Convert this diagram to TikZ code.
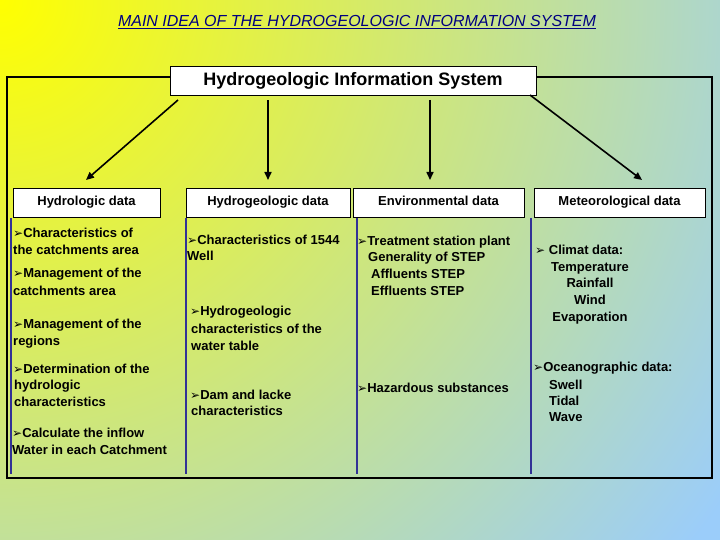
\documentclass[tikz,border=0pt]{standalone}
\usepackage{fontspec}
\setmainfont{Liberation Sans}
\newfontfamily\dv{DejaVu Sans}
\usetikzlibrary{arrows.meta}
\newcommand{\bl}{{\dv\fontsize{12}{12}\selectfont ➢}}
\definecolor{sky}{RGB}{155,205,250}
\definecolor{sep}{RGB}{50,50,150}
\begin{document}
\begin{tikzpicture}[x=1pt,y=-1pt,
  hdr/.style={draw=black,fill=white,minimum height=29pt,inner sep=0pt,text height=9.5pt,text depth=2.5pt,font=\fontsize{13}{15}\selectfont},
  txt/.style={anchor=west,inner sep=0pt,font=\fontsize{13}{15}\selectfont\bfseries},
  arr/.style={-{Triangle[length=8pt,width=7pt]},line width=1.6pt},
  frame/.style={line width=2.6pt},
  sepl/.style={sep,line width=2.4pt}]
\useasboundingbox (0,0) rectangle (720,540);
\fill[sky] (0,0) rectangle (720,540);
\begin{scope}
\clip (0,0) rectangle (720,540);
\shade[inner color=yellow,outer color=sky] (0,0) circle (880);
\end{scope}
\node[inner sep=0pt,text=blue!50!black,font=\fontsize{16}{18}\selectfont\itshape] (title) at (357,22) {\underline{MAIN IDEA OF THE HYDROGEOLOGIC INFORMATION SYSTEM}};
\draw[sepl] (11,218)--(11,474) (186,218)--(186,474) (357,218)--(357,474) (531,218)--(531,474);
\node[hdr,minimum width=366pt,text height=13pt,text depth=3.5pt,font=\fontsize{18}{20}\selectfont\bfseries] (his) at (353,80.5) {Hydrogeologic Information System};
\coordinate (tl) at (7,77); \coordinate (tr) at (712,77);
\coordinate (bl) at (7,478); \coordinate (br) at (712,478);
\draw[frame] (his.west |- tl) -- (tl) -- (bl) -- (br) -- (tr) -- (his.east |- tr);
\node[hdr,minimum width=147pt] (h1) at (86.5,202.5) {\bfseries Hydrologic data};
\node[hdr,minimum width=164pt] (h2) at (268,202.5) {\bfseries Hydrogeologic data};
\node[hdr,minimum width=171pt] (h3) at (438.5,202.5) {\bfseries Environmental data};
\node[hdr,minimum width=171pt] (h4) at (619.5,202.5) {\bfseries Meteorological data};
\coordinate (s1) at (178,100); \coordinate (e1) at (86,180);
\coordinate (s4) at (530,95); \coordinate (e4) at (642,180);
\draw[arr] (s1) -- (e1);
\draw[arr] (his.south -| h2.north) ++(0,5) coordinate (s2) -- (s2 |- e1);
\draw[arr] (430,100) coordinate (s3) -- (430,180) coordinate (e3);
\draw[arr] (s4) -- (e4);
% column 1
\node[txt] (a1) at (13,233) {\bl Characteristics of};
\node[txt] (a2) at (13,250) {the catchments area};
\node[txt] (a3) at (13,274) {\bl Management of the};
\node[txt] (a4) at (13,291) {catchments area};
\node[txt] (a5) at (13,325) {\bl Management of the};
\node[txt] (a6) at (13,342) {regions};
\node[txt] (a7) at (13,369) {\bl Determination of the};
\node[txt] (a8) at (14,386) {hydrologic};
\node[txt] (a9) at (14,402) {characteristics};
\node[txt] (a10) at (12,433) {\bl Calculate the inflow};
\node[txt] (a11) at (12,450) {Water in each Catchment};
% column 2
\node[txt] (b1) at (187,240) {\bl Characteristics of 1544};
\node[txt] (b2) at (187,256) {Well};
\node[txt] (b3) at (190,312) {\bl Hydrogeologic};
\node[txt] (b4) at (191,329) {characteristics of the};
\node[txt] (b5) at (191,346) {water table};
\node[txt] (b6) at (190,395) {\bl Dam and lacke};
\node[txt] (b7) at (191,411) {characteristics};
% column 3
\node[txt] (c1) at (357,242) {\bl Treatment station plant};
\node[txt] (c2) at (368,258) {Generality of STEP};
\node[txt] (c3) at (371,274) {Affluents STEP};
\node[txt] (c4) at (371,291) {Effluents STEP};
\node[txt] (c5) at (357,388) {\bl Hazardous substances};
% column 4
\node[txt] (d1) at (535,250) {\bl\ Climat data:};
\node[inner sep=0pt,font=\fontsize{13}{16.7}\selectfont\bfseries,align=center] (d2) at (590,293) {Temperature\\Rainfall\\Wind\\Evaporation};
\node[txt] (d3) at (533,368) {\bl Oceanographic data:};
\node[txt] (d4) at (549,385) {Swell};
\node[txt] (d5) at (549,401) {Tidal};
\node[txt] (d6) at (549,417) {Wave};
\end{tikzpicture}
\end{document}
